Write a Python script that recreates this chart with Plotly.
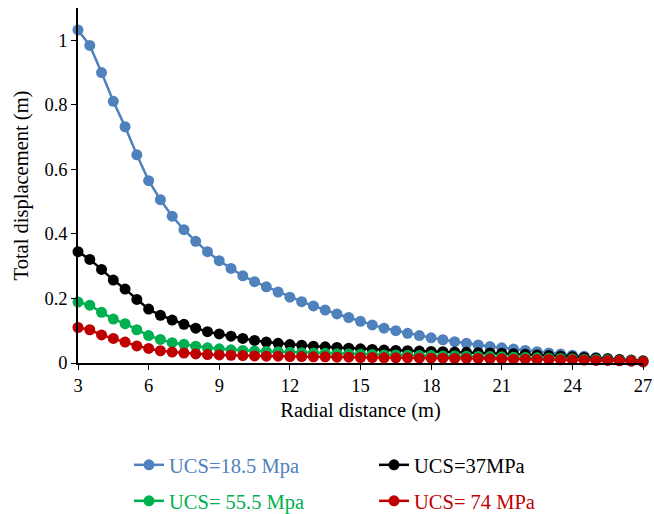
import plotly.graph_objects as go

radial_distance = [3 + 0.5 * i for i in range(49)]

ucs_18_5 = [1.032, 0.984, 0.900, 0.811, 0.732, 0.645, 0.565, 0.506, 0.455, 0.413,
            0.377, 0.345, 0.317, 0.293, 0.270, 0.252, 0.236, 0.220, 0.204, 0.190,
            0.177, 0.164, 0.152, 0.141, 0.129, 0.118, 0.108, 0.100, 0.092, 0.085,
            0.078, 0.072, 0.066, 0.061, 0.056, 0.051, 0.047, 0.043, 0.039, 0.035,
            0.031, 0.028, 0.024, 0.021, 0.017, 0.014, 0.010, 0.006, 0.003]

ucs_37 = [0.345, 0.321, 0.290, 0.257, 0.229, 0.197, 0.167, 0.148, 0.133, 0.120,
          0.108, 0.097, 0.090, 0.083, 0.076, 0.070, 0.065, 0.061, 0.057, 0.055,
          0.052, 0.050, 0.048, 0.046, 0.044, 0.042, 0.040, 0.039, 0.038, 0.037,
          0.036, 0.035, 0.034, 0.033, 0.032, 0.031, 0.030, 0.029, 0.027, 0.025,
          0.023, 0.021, 0.019, 0.017, 0.015, 0.013, 0.011, 0.009, 0.007]

ucs_55_5 = [0.189, 0.179, 0.157, 0.136, 0.122, 0.103, 0.085, 0.073, 0.063, 0.058,
            0.052, 0.047, 0.044, 0.041, 0.039, 0.037, 0.036, 0.035, 0.033, 0.032,
            0.031, 0.030, 0.029, 0.028, 0.027, 0.026, 0.025, 0.025, 0.024, 0.023,
            0.023, 0.022, 0.022, 0.021, 0.020, 0.020, 0.019, 0.018, 0.017, 0.016,
            0.015, 0.014, 0.013, 0.012, 0.011, 0.010, 0.008, 0.007, 0.005]

ucs_74 = [0.110, 0.103, 0.087, 0.076, 0.065, 0.053, 0.045, 0.038, 0.034, 0.031,
          0.028, 0.026, 0.025, 0.024, 0.023, 0.022, 0.021, 0.021, 0.020, 0.020,
          0.019, 0.019, 0.018, 0.018, 0.017, 0.017, 0.016, 0.016, 0.016, 0.015,
          0.015, 0.015, 0.014, 0.014, 0.014, 0.013, 0.013, 0.012, 0.012, 0.011,
          0.011, 0.010, 0.010, 0.009, 0.008, 0.008, 0.007, 0.006, 0.004]

series = [
    ("UCS=18.5 Mpa", ucs_18_5, "#4f81bd", "legend"),
    ("UCS=37MPa", ucs_37, "#000000", "legend"),
    ("UCS= 55.5 Mpa", ucs_55_5, "#00b050", "legend2"),
    ("UCS= 74 MPa", ucs_74, "#c00000", "legend2"),
]

FONT = "Liberation Serif"

fig = go.Figure()
for name, vals, color, leg in series:
    fig.add_trace(go.Scatter(
        x=radial_distance, y=vals, mode="lines+markers",
        name=f'<span style="color:{color}">{name}</span>',
        line=dict(color=color, width=2.5),
        marker=dict(color=color, size=11),
        cliponaxis=False,
        legend=leg,
    ))

legend_common = dict(
    orientation="h", xanchor="left", yanchor="middle",
    xref="container", yref="container",
    font=dict(family=FONT, size=20.5),
    entrywidth=200, entrywidthmode="pixels",
    bgcolor="rgba(0,0,0,0)", itemwidth=30,
)

fig.update_layout(
    width=654, height=514,
    margin=dict(l=78, r=11, t=8, b=151, autoexpand=False),
    paper_bgcolor="white", plot_bgcolor="white",
    font=dict(family=FONT, color="black"),
    legend=dict(x=129 / 654, y=1 - 465 / 514, **legend_common),
    legend2=dict(x=129 / 654, y=1 - 501 / 514, **legend_common),
    xaxis=dict(
        range=[3, 27], tickvals=[3, 6, 9, 12, 15, 18, 21, 24, 27],
        showline=True, linecolor="black", linewidth=1.5,
        ticks="outside", ticklen=5, tickcolor="black",
        showgrid=False, zeroline=False, automargin=False,
        tickfont=dict(family=FONT, size=18.5),
        title=dict(text="Radial distance (m)", font=dict(family=FONT, size=20.5), standoff=8),
    ),
    yaxis=dict(
        range=[0, 1.1], tickvals=[0, 0.2, 0.4, 0.6, 0.8, 1],
        ticktext=["0", "0.2", "0.4", "0.6", "0.8", "1"],
        showline=True, linecolor="black", linewidth=1.5,
        ticks="outside", ticklen=5, tickcolor="black",
        showgrid=False, zeroline=False, automargin=False,
        tickfont=dict(family=FONT, size=18.5),
        title=dict(text="Total displacement (m)", font=dict(family=FONT, size=20.5), standoff=10),
    ),
)

fig.write_html("out.html")
